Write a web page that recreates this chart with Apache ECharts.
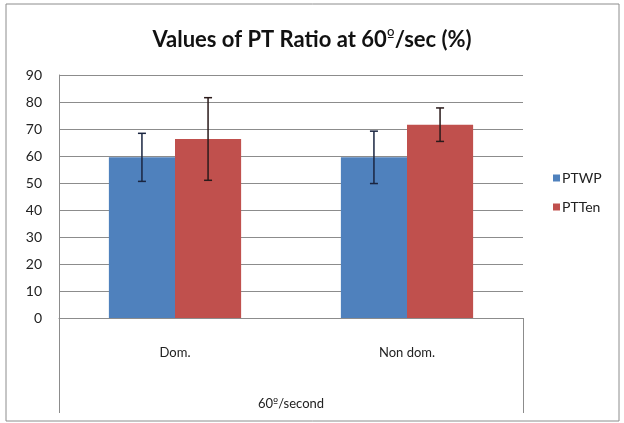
<!DOCTYPE html>
<html>
<head>
<meta charset="utf-8">
<script src="https://cdn.jsdelivr.net/npm/echarts@6/dist/echarts.min.js"></script>
<style>html,body{margin:0;padding:0;background:#fff}#c{width:624px;height:423px}</style>
</head>
<body>
<div id="c"></div>
<script>
var categories = ['Dom.', 'Non dom.'];
var groupLabel = ['60º/second'];
var ptwp = [59.5, 59.5];
var ptwpErr = [8.9, 9.7];
var ptten = [66.3, 71.6];
var pttenErr = [15.3, 6.2];
var yTicks = [0, 10, 20, 30, 40, 50, 60, 70, 80, 90];
var titleText = 'Values of PT Ratio at 60º/sec (%)';

var FONT = 'Lato';
var GAP = 0.43;
var chart = echarts.init(document.getElementById('c'));

// wrap the ordinal sign in a rich segment using a font whose º is underlined
function ordinalRich(s) {
  return s.split('º').join('{o|º}');
}

function errSeries(name, means, errs, side, color) {
  return {
    type: 'custom',
    name: name + ' err',
    xAxisIndex: 0,
    z: 10,
    silent: true,
    data: means.map(function (m, i) { return [i, m - errs[i], m + errs[i]]; }),
    renderItem: function (params, api) {
      var band = api.size([1, 0])[0];
      var barW = band * (1 - GAP) / 2;
      var lo = api.coord([api.value(0), api.value(1)]);
      var hi = api.coord([api.value(0), api.value(2)]);
      var x = lo[0] + side * barW / 2;
      var cap = 4;
      var style = { stroke: color, lineWidth: 1.5 };
      return {
        type: 'group',
        children: [
          { type: 'line', shape: { x1: x, y1: lo[1], x2: x, y2: hi[1] }, style: style },
          { type: 'line', shape: { x1: x - cap, y1: lo[1], x2: x + cap, y2: lo[1] }, style: style },
          { type: 'line', shape: { x1: x - cap, y1: hi[1], x2: x + cap, y2: hi[1] }, style: style }
        ]
      };
    }
  };
}

chart.setOption({
  animation: false,
  textStyle: { fontFamily: FONT },
  graphic: [{
    type: 'rect', shape: { x: 6, y: 4, width: 613, height: 417 },
    style: { fill: 'none', stroke: '#8c8c8c', lineWidth: 1 }, z: -1
  }],
  title: {
    text: ordinalRich(titleText),
    left: 'center', top: 24,
    textStyle: { fontFamily: FONT, fontSize: 22, fontWeight: 'bold', color: '#111',
      rich: { o: { fontFamily: 'DejaVu Sans', fontSize: 17, fontWeight: 'normal', color: '#111', padding: [0, 0, 4, 0] } } }
  },
  legend: {
    orient: 'vertical', left: 548, top: 166,
    itemWidth: 7, itemHeight: 7, itemGap: 15,
    icon: 'rect',
    data: ['PTWP', 'PTTen'],
    textStyle: { fontFamily: FONT, fontSize: 14, color: '#222', padding: [0, 0, 0, -3] }
  },
  grid: { left: 59, right: 101, top: 75, bottom: 105 },
  xAxis: [{
    type: 'category', data: categories,
    axisLine: { lineStyle: { color: '#8c8c8c', width: 1 } },
    axisTick: { show: false },
    axisLabel: { margin: 28, fontSize: 13, color: '#222', fontFamily: FONT }
  }, {
    type: 'category', data: groupLabel, position: 'bottom',
    axisLine: { show: false },
    axisTick: { show: true, length: 95, lineStyle: { color: '#8c8c8c', width: 1 } },
    axisLabel: { margin: 79, fontSize: 13, color: '#222', fontFamily: FONT,
      formatter: function (v) { return ordinalRich(v); },
      rich: { o: { fontFamily: 'DejaVu Sans', fontSize: 11, color: '#222' } } }
  }],
  yAxis: {
    type: 'value', min: 0, max: 90, interval: 10,
    axisLine: { show: true, lineStyle: { color: '#8c8c8c', width: 1 } },
    axisTick: { show: false },
    splitLine: { lineStyle: { color: '#8c8c8c', width: 1 } },
    axisLabel: { fontSize: 14, color: '#222', margin: 17, fontFamily: FONT,
      formatter: function (v) { return yTicks.indexOf(v) >= 0 ? String(v) : ''; } }
  },
  series: [
    { type: 'bar', name: 'PTWP', data: ptwp, barGap: '0%', barCategoryGap: (GAP * 100) + '%',
      itemStyle: { color: '#4F81BD' } },
    { type: 'bar', name: 'PTTen', data: ptten, barGap: '0%', barCategoryGap: (GAP * 100) + '%',
      itemStyle: { color: '#C0504D' } },
    errSeries('PTWP', ptwp, ptwpErr, -1, '#1a2540'),
    errSeries('PTTen', ptten, pttenErr, 1, '#2a1a1a')
  ]
});
</script>
</body>
</html>
